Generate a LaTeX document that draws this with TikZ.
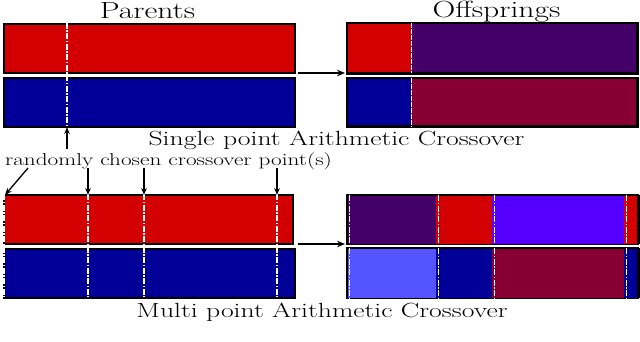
\documentclass[tikz,border=0pt]{standalone}
\usetikzlibrary{arrows.meta}
\definecolor{cred}{RGB}{210,0,0}
\definecolor{cblue}{RGB}{0,0,153}
\definecolor{cpurple}{RGB}{68,0,102}
\definecolor{cmaroon}{RGB}{136,0,51}
\definecolor{cviolet}{RGB}{85,0,255}
\definecolor{clight}{RGB}{85,85,255}
\newcommand{\wtxt}[2]{{\fontsize{#1}{#1}\selectfont\scalebox{1.35}[1]{#2}}}
\tikzset{
  bar/.style={draw=black, line width=2.4pt, inner sep=0pt, anchor=north west},
  seg/.style={inner sep=0pt, anchor=north west},
  xline/.style={white, line width=1.8pt, dash pattern=on 6pt off 1.5pt on 1.5pt off 1.5pt},
  thinx/.style={white, line width=1pt, dash pattern=on 5pt off 1pt},
  arr/.style={-{Stealth[length=7pt,width=5.5pt]}, line width=1.3pt, black},
  harr/.style={-{Stealth[length=8pt,width=6.5pt]}, line width=2pt, black},
  lbl/.style={inner sep=0pt, anchor=base},
}
\begin{document}
\begin{tikzpicture}[x=1pt,y=-1pt]
\useasboundingbox (0,0) rectangle (640,342);
% ---------- single point: parents ----------
\node[lbl] (tparents) at (147.5,19) {\wtxt{23.4}{Parents}};
\node[bar, fill=cred, minimum width=291pt, minimum height=49pt] (sp1) at (3,23) {};
\node[bar, fill=cblue, minimum width=291pt, minimum height=49pt] (sp2) at (3,77) {};
\coordinate (spcut) at (67,23);
\coordinate (spcutb) at (67,126);
\draw[xline] (spcut) -- (spcutb);
% ---------- single point: offspring ----------
\node[lbl] (toff) at (496.5,17.5) {\wtxt{23.4}{Offsprings}};
\node[seg, fill=cred, minimum width=64pt, minimum height=50pt] (so1a) at (347,23) {};
\node[seg, fill=cpurple, minimum width=226pt, minimum height=50pt] (so1b) at (411,23) {};
\node[seg, fill=cblue, minimum width=64pt, minimum height=48pt] (so2a) at (347,78) {};
\node[seg, fill=cmaroon, minimum width=226pt, minimum height=48pt] (so2b) at (411,78) {};
\draw[line width=2.4pt] (so1a.north west) rectangle (so1b.south east);
\draw[line width=2.4pt] (so2a.north west) rectangle (so2b.south east);
\draw[thinx] (so1a.north east) -- (so1a.south east);
\draw[thinx] (so2a.north east) -- (so2a.south east);
\coordinate (sarrs) at (298,73);
\coordinate (sarre) at (345,73);
\draw[harr] (sarrs) -- (sarre);
% labels
\node[lbl] (single) at (336.5,146) {\wtxt{20.5}{Single point Arithmetic Crossover}};
\node[lbl] (rand) at (168.5,166) {\wtxt{17.2}{randomly chosen crossover point(s)}};
\coordinate (upstart) at (67,149);
\draw[arr] (upstart) -- ([yshift=-1pt]spcutb);
% ---------- multi point: parents ----------
\node[bar, fill=cred, minimum width=289pt, minimum height=49pt] (mp1) at (3,194) {};
\node[bar, fill=cblue, minimum width=291pt, minimum height=49pt] (mp2) at (3,248) {};
\foreach \x/\n in {4/a,88/b,144/c,277/d}{
  \coordinate (mc\n) at (\x,194);
  \coordinate (md\n) at (\x,297);
  \draw[xline] (mc\n) -- (md\n);
}
\coordinate (dstart) at (28,168);
\draw[arr] (dstart) -- ([xshift=1pt,yshift=-1pt]mca);
\foreach \n in {b,c,d}{
  \draw[arr] (mc\n |- dstart) -- ([yshift=-1pt]mc\n);
}
% ---------- multi point: offspring ----------
\node[seg, fill=cpurple, minimum width=89pt, minimum height=49pt] (mo1a) at (347,195) {};
\node[seg, fill=cred, minimum width=56pt, minimum height=49pt] (mo1b) at (436,195) {};
\node[seg, fill=cviolet, minimum width=132pt, minimum height=49pt] (mo1c) at (492,195) {};
\node[seg, fill=cred, minimum width=14pt, minimum height=49pt] (mo1d) at (624,195) {};
\node[seg, fill=clight, minimum width=89pt, minimum height=50pt] (mo2a) at (347,248) {};
\node[seg, fill=cblue, minimum width=56pt, minimum height=50pt] (mo2b) at (436,248) {};
\node[seg, fill=cmaroon, minimum width=132pt, minimum height=50pt] (mo2c) at (492,248) {};
\node[seg, fill=cblue, minimum width=14pt, minimum height=50pt] (mo2d) at (624,248) {};
\draw[line width=1.6pt] (mo1a.north west) rectangle (mo1d.south east);
\draw[line width=1.6pt] (mo2a.north west) rectangle (mo2d.south east);
\draw[line width=2.4pt] (mo1d.north east) -- (mo1d.south east);
\draw[line width=2.4pt] (mo2d.north east) -- (mo2d.south east);
\foreach \n in {a,b,c,d}{
  \draw[xline] ([xshift=2.5pt]mo1\n.north west) -- ([xshift=2.5pt]mo1\n.south west);
  \draw[xline] ([xshift=2.5pt]mo2\n.north west) -- ([xshift=2.5pt]mo2\n.south west);
}
\coordinate (marrs) at (298,244);
\coordinate (marre) at (345,244);
\draw[harr] (marrs) -- (marre);
\node[lbl] (multi) at (322,317) {\wtxt{20.5}{Multi point Arithmetic Crossover}};
\end{tikzpicture}
\end{document}
